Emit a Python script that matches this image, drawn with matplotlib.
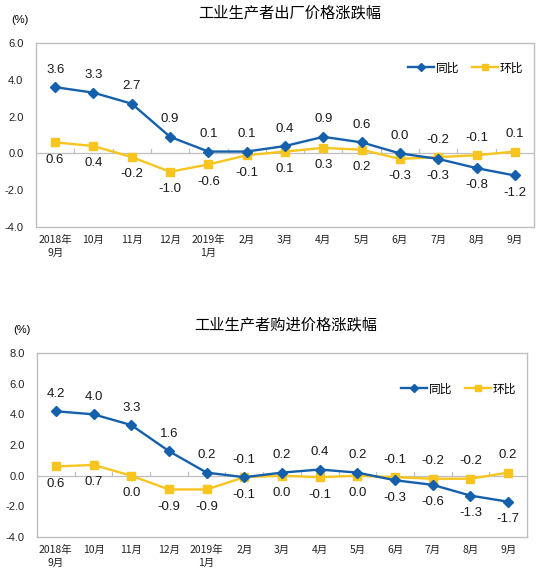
import matplotlib
matplotlib.use("Agg")
import matplotlib.pyplot as plt
from matplotlib.lines import Line2D

plt.rcParams['font.family'] = ['Noto Sans CJK SC', 'DejaVu Sans']

months = ["2018年\n9月", "10月", "11月", "12月", "2019年\n1月", "2月", "3月",
          "4月", "5月", "6月", "7月", "8月", "9月"]

ppi_yoy = [3.6, 3.3, 2.7, 0.9, 0.1, 0.1, 0.4, 0.9, 0.6, 0.0, -0.3, -0.8, -1.2]
ppi_mom = [0.6, 0.4, -0.2, -1.0, -0.6, -0.1, 0.1, 0.3, 0.2, -0.3, -0.2, -0.1, 0.1]
# label placement: 1 above, -1 below
ppi_yoy_pos = [1, 1, 1, 1, 1, 1, 1, 1, 1, 1, -1, -1, -1]
ppi_mom_pos = [-1, -1, -1, -1, -1, -1, -1, -1, -1, -1, 1, 1, 1]

ppirm_yoy = [4.2, 4.0, 3.3, 1.6, 0.2, -0.1, 0.2, 0.4, 0.2, -0.3, -0.6, -1.3, -1.7]
ppirm_mom = [0.6, 0.7, 0.0, -0.9, -0.9, -0.1, 0.0, -0.1, 0.0, -0.1, -0.2, -0.2, 0.2]
ppirm_yoy_pos = [1, 1, 1, 1, 1, 1, 1, 1, 1, -1, -1, -1, -1]
ppirm_mom_pos = [-1, -1, -1, -1, -1, -1, -1, -1, -1, 1, 1, 1, 1]

titles = ["工业生产者出厂价格涨跌幅", "工业生产者购进价格涨跌幅"]
series_names = ["同比", "环比"]

BLUE = "#1560AC"
YELLOW = "#F7C51E"
NUMFONT = "Liberation Sans"
W, H = 539, 570

fig = plt.figure(figsize=(W / 100, H / 100), dpi=100)
fig.patch.set_facecolor("white")


def px_axes(l, t, r, b):
    return fig.add_axes([l / W, 1 - b / H, (r - l) / W, (b - t) / H])


def draw(ax, yoy, mom, yoy_pos, mom_pos, ylim, yticks, legend_y):
    x = list(range(len(months)))
    ax.set_xlim(-0.5, len(months) - 0.5)
    ax.set_ylim(*ylim)
    ax.axhline(0, color="#BFBFBF", lw=0.9, zorder=1)
    for b in range(1, len(months)):
        ax.plot([b - 0.5, b - 0.5], [0, (ylim[1] - ylim[0]) * 0.022], color="#BFBFBF",
                lw=0.9, zorder=1)
    ax.plot(x, yoy, color=BLUE, lw=1.7, marker="D", ms=5, zorder=3, label=series_names[0])
    ax.plot(x, mom, color=YELLOW, lw=1.7, marker="s", ms=6, zorder=2, label=series_names[1])
    for xi, v, p in zip(x, yoy, yoy_pos):
        ax.annotate(f"{v:.1f}", (xi, v), xytext=(0, 12.5 * p), textcoords="offset points",
                    ha="center", va="center", fontsize=9.5, family=NUMFONT,
                    color="#1a1a1a")
    for xi, v, p in zip(x, mom, mom_pos):
        ax.annotate(f"{v:.1f}", (xi, v), xytext=(0, 12.5 * p), textcoords="offset points",
                    ha="center", va="center", fontsize=9.5, family=NUMFONT,
                    color="#1a1a1a")
    ax.set_yticks(yticks)
    ax.set_yticklabels([f"{t:.1f}" for t in yticks], fontsize=8, family=NUMFONT)
    ax.set_xticks(x)
    ax.set_xticklabels(months, fontsize=7.5, fontweight="medium", linespacing=1.3)
    ax.tick_params(axis="both", length=0, colors="#222222")
    ax.tick_params(axis="y", pad=9)
    ax.tick_params(axis="x", pad=6)
    for s in ax.spines.values():
        s.set_color("#BFBFBF")
        s.set_linewidth(1.0)
    handles = [Line2D([], [], color=BLUE, lw=1.7, marker="D", ms=4),
               Line2D([], [], color=YELLOW, lw=1.7, marker="s", ms=5)]
    ax.legend(handles, series_names, loc="center right", bbox_to_anchor=(1.0, legend_y),
              ncol=2, frameon=False, fontsize=8.5, handlelength=2.2, handletextpad=0.2,
              columnspacing=1.0)


ax1 = px_axes(36, 43, 534, 227)
draw(ax1, ppi_yoy, ppi_mom, ppi_yoy_pos, ppi_mom_pos, (-4, 6),
     [-4.0, -2.0, 0.0, 2.0, 4.0, 6.0], 0.865)
fig.text(290 / W, 1 - 13 / H, titles[0], ha="center", va="center", fontsize=11)
fig.text(20 / W, 1 - 20 / H, "(%)", ha="center", va="center", fontsize=8, family=NUMFONT)

ax2 = px_axes(37, 353, 527, 537)
draw(ax2, ppirm_yoy, ppirm_mom, ppirm_yoy_pos, ppirm_mom_pos, (-4, 8),
     [-4.0, -2.0, 0.0, 2.0, 4.0, 6.0, 8.0], 0.805)
fig.text(286 / W, 1 - 325 / H, titles[1], ha="center", va="center", fontsize=11)
fig.text(22 / W, 1 - 330 / H, "(%)", ha="center", va="center", fontsize=8, family=NUMFONT)

fig.savefig("out.png", dpi=100)
